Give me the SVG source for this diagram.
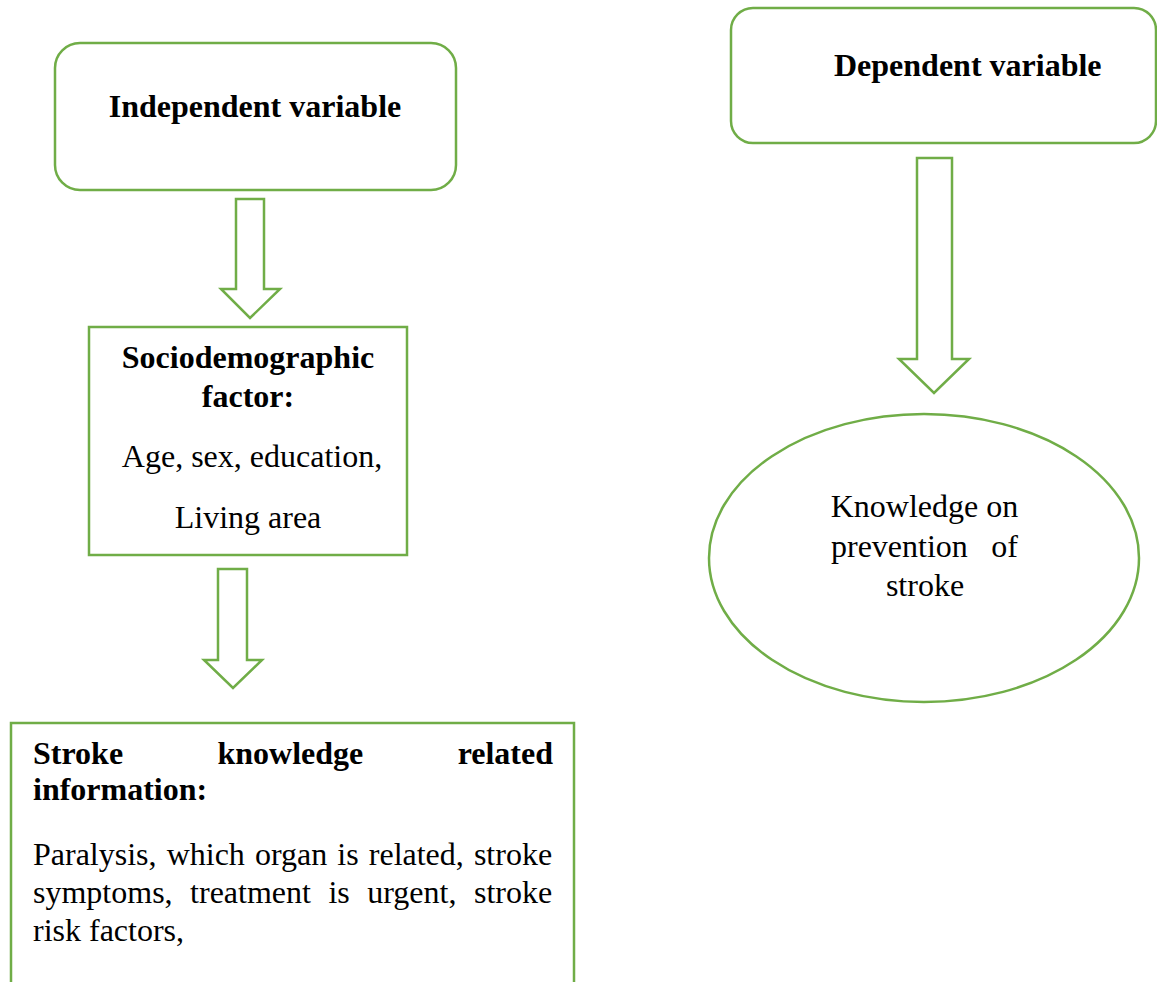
<svg xmlns="http://www.w3.org/2000/svg" width="1157" height="982" viewBox="0 0 1157 982">
<style>
.shape{fill:#ffffff;stroke:#70AD47;stroke-width:2.5}
.arrow{fill:#ffffff;stroke:#70AD47;stroke-width:2.5;stroke-linejoin:miter}
.t{font-family:"Liberation Serif","Times New Roman",serif;font-size:32px;fill:#000000}
.b{font-weight:bold}
.m{text-anchor:middle}
.e{text-anchor:end}
</style>
<rect width="1157" height="982" fill="#ffffff"/>
<g id="connectors">
<polygon class="arrow" points="236,199 264,199 264,289 280,289 250,318 221,289 236,289"/>
<polygon class="arrow" points="218,569 247,569 247,660 262,660 233,688 204,660 218,660"/>
<polygon class="arrow" points="917,158 952,158 952,359 969,359 934,393 899,359 917,359"/>
</g>
<g id="independent">
<rect class="shape" x="55" y="43" width="401" height="147" rx="25" ry="25"/>
<text class="t b m" x="255" y="117">Independent variable</text>
</g>
<g id="sociodemographic">
<rect class="shape" x="89" y="327" width="318" height="228"/>
<text class="t b m" x="248" y="368">Sociodemographic</text>
<text class="t b m" x="248" y="407">factor:</text>
<text class="t m" x="252" y="467">Age, sex, education,</text>
<text class="t m" x="248" y="528">Living area</text>
</g>
<g id="stroke-knowledge">
<rect class="shape" x="11" y="723" width="563" height="290"/>
<text class="t b" x="33" y="764">Stroke</text>
<text class="t b" x="217.5" y="764">knowledge</text>
<text class="t b e" x="553" y="764">related</text>
<text class="t b" x="33" y="800">information:</text>
<text class="t" x="33" y="865" word-spacing="2.1">Paralysis, which organ is related, stroke</text>
<text class="t" x="33" y="903" word-spacing="9.5">symptoms, treatment is urgent, stroke</text>
<text class="t" x="33" y="941">risk factors,</text>
</g>
<g id="dependent">
<rect class="shape" x="731" y="8" width="425" height="135" rx="22" ry="22"/>
<text class="t b" x="834" y="76">Dependent variable</text>
</g>
<g id="knowledge-prevention">
<ellipse class="shape" cx="924" cy="558" rx="215" ry="144"/>
<text class="t m" x="924.5" y="517">Knowledge on</text>
<text class="t" x="831" y="557">prevention</text>
<text class="t e" x="1018" y="557">of</text>
<text class="t m" x="925" y="596">stroke</text>
</g>
</svg>
